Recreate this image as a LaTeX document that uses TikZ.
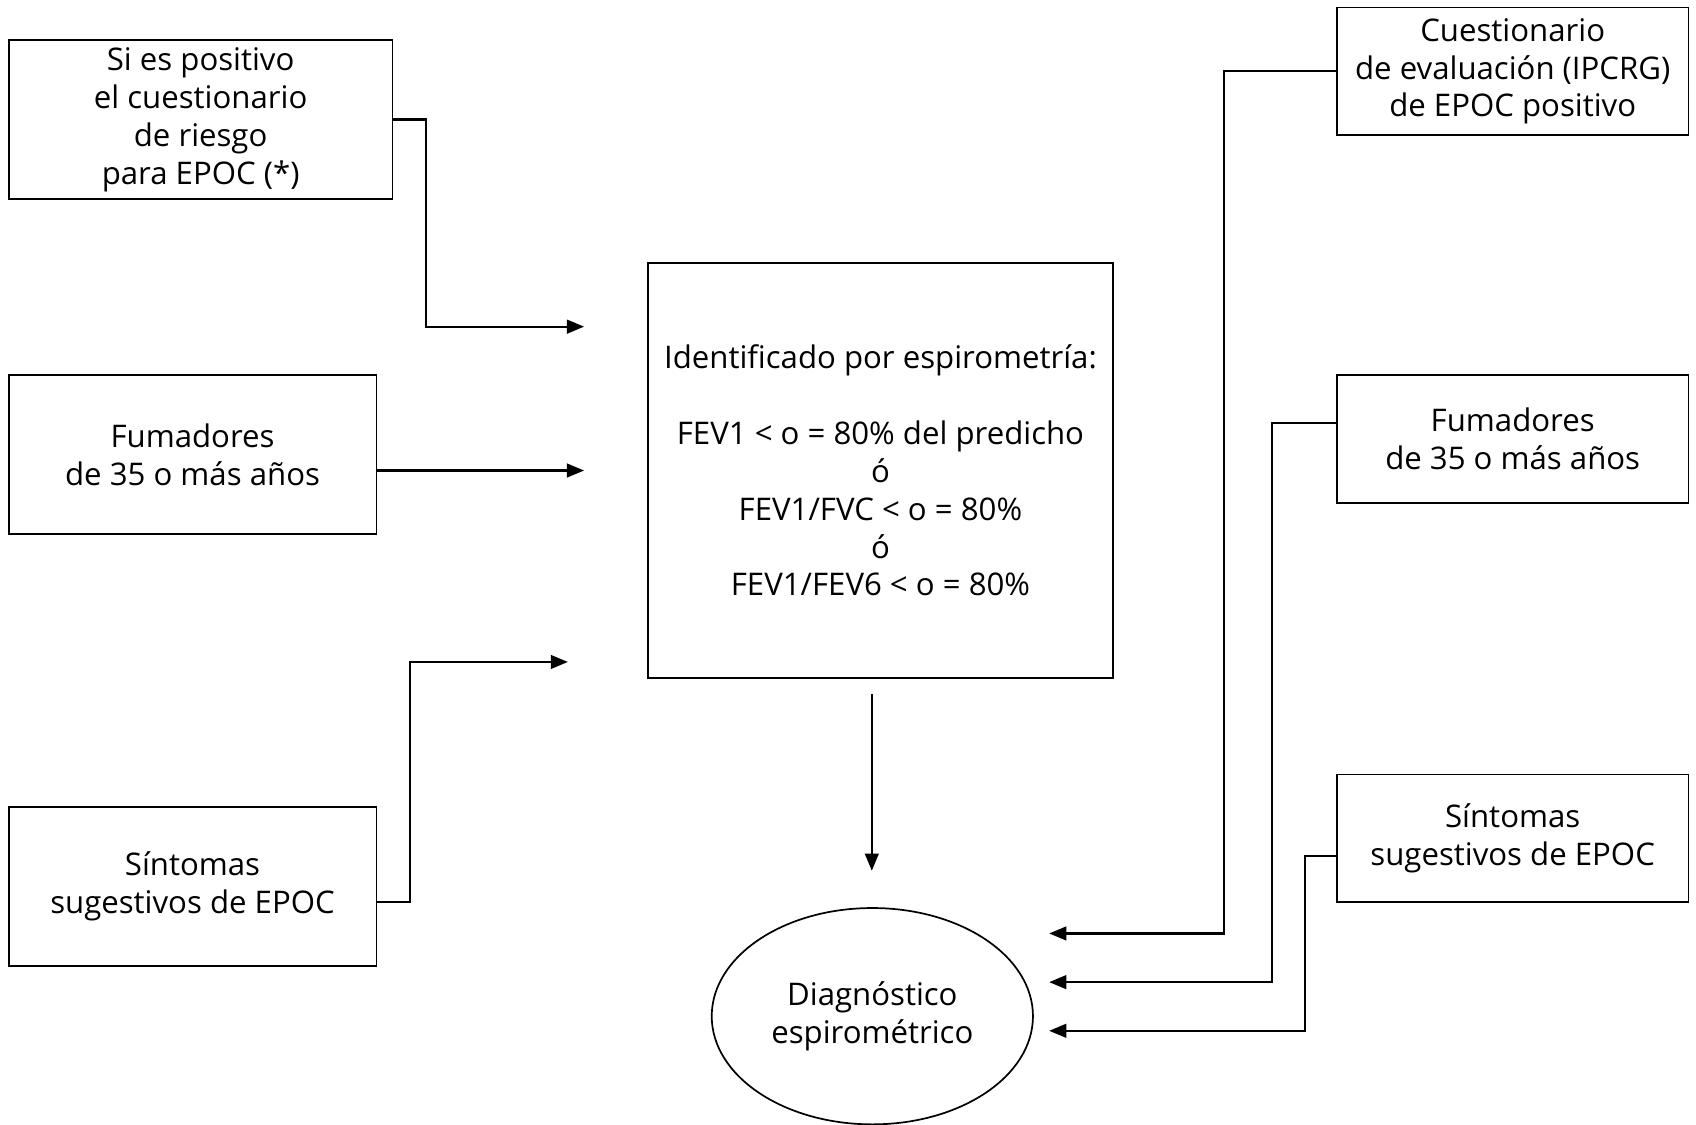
\documentclass[tikz,border=0pt]{standalone}
\usepackage{fontspec}
\setmainfont{Open Sans}
\usepackage{tikz}
\usetikzlibrary{arrows.meta}
\usetikzlibrary{positioning, shapes.geometric}

\begin{document}
\begin{tikzpicture}[
  caja/.style={draw, line width=0.45pt, rectangle, inner sep=0pt, align=center},
  flecha/.style={line width=0.55pt, -{Triangle[length=4.5pt,width=3.6pt]}},
  linea/.style={line width=0.45pt},
  font=\fontsize{8.2}{9.96}\selectfont
]
\useasboundingbox (0,0) rectangle (15.68,-10.40);
\node[caja, minimum width=3.55cm, minimum height=1.47cm] (riesgo) at (1.855,-1.105) {Si es positivo\\el cuestionario\\de riesgo\\para EPOC (*)};
\node[caja, minimum width=3.40cm, minimum height=1.47cm] (fumI) at (1.78,-4.205) {Fumadores\\de 35 o más años};
\node[caja, minimum width=3.40cm, minimum height=1.47cm] (sintI) at (1.78,-8.195) {Síntomas\\sugestivos de EPOC};
\node[caja, minimum width=4.30cm, minimum height=3.84cm] (espiro) at (8.14,-4.35) {Identificado por espirometría:\\[9.96pt]FEV1 < o = 80\% del predicho\\ó\\FEV1/FVC < o = 80\%\\ó\\FEV1/FEV6 < o = 80\%};
\node[draw, linea, ellipse, minimum width=2.97cm, minimum height=2.00cm, inner sep=0pt, align=center] (diag) at (8.065,-9.395) {Diagnóstico\\espirométrico};
\node[caja, minimum width=3.25cm, minimum height=1.18cm] (cuest) at (13.985,-0.66) {Cuestionario\\de evaluación (IPCRG)\\de EPOC positivo};
\node[caja, minimum width=3.25cm, minimum height=1.18cm] (fumD) at (13.985,-4.06) {Fumadores\\de 35 o más años};
\node[caja, minimum width=3.25cm, minimum height=1.18cm] (sintD) at (13.985,-7.75) {Síntomas\\sugestivos de EPOC};

\coordinate (llegaA) at (5.40,-3.02);
\coordinate (llegaB) at (5.40,-4.35);
\coordinate (llegaC) at (5.25,-6.12);
\coordinate (bajaD) at (8.06,-8.05);
\coordinate (llegaE) at (9.70,-8.63);
\coordinate (llegaF) at (9.70,-9.08);
\coordinate (llegaG) at (9.70,-9.53);

\draw[flecha] (riesgo.east) -- ++(0.30,0) |- (llegaA);
\draw[flecha] (fumI.east |- llegaB) -- (llegaB);
\draw[flecha] ([yshift=-1.45mm]sintI.east) -- ++(0.30,0) |- (llegaC);
\draw[flecha] ([yshift=-1.4mm]bajaD |- espiro.south) -- (bajaD);
\draw[flecha] (cuest.west) -- ++(-1.04,0) |- (llegaE);
\draw[flecha] ([yshift=1.5mm]fumD.west) -- ++(-0.59,0) |- (llegaF);
\draw[flecha] ([yshift=-1.6mm]sintD.west) -- ++(-0.29,0) |- (llegaG);
\end{tikzpicture}
\end{document}
